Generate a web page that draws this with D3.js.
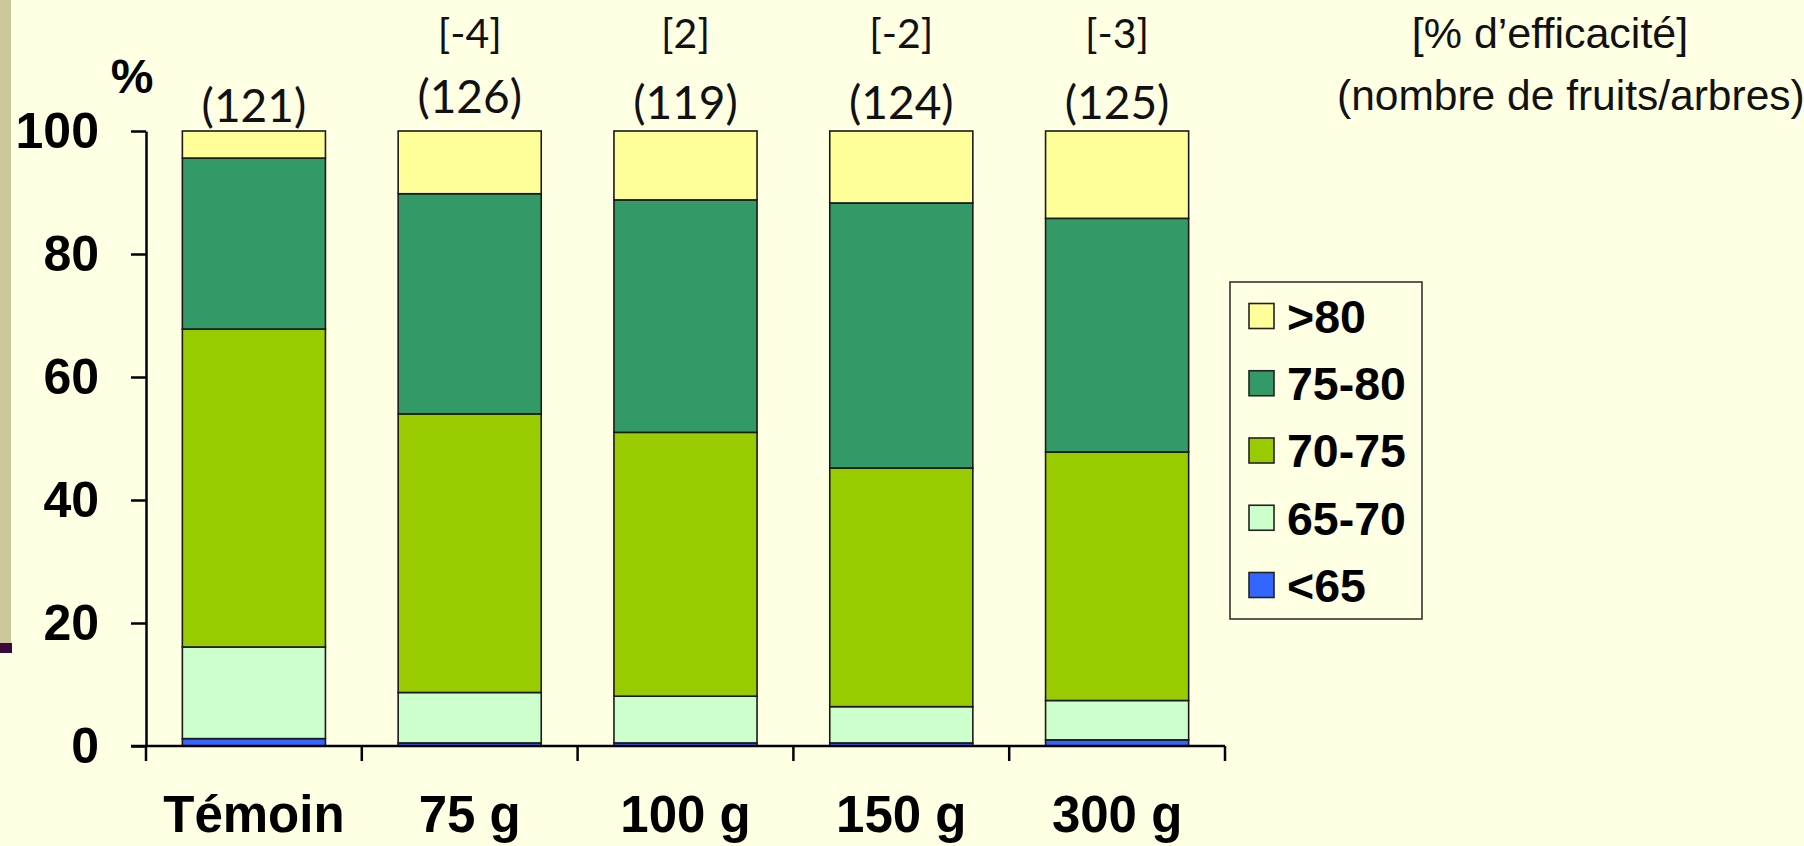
<!DOCTYPE html>
<html>
<head>
<meta charset="utf-8">
<script src="https://cdn.jsdelivr.net/npm/d3@7/dist/d3.min.js"></script>
<style>
  html, body { margin: 0; padding: 0; background: #FFFFE3; }
  svg { display: block; }
</style>
</head>
<body>
<svg id="chart" width="1804" height="846"></svg>
<script>
// ---- data ----
const categories = ["Témoin", "75 g", "100 g", "150 g", "300 g"];
const seriesKeys = ["<65", "65-70", "70-75", "75-80", ">80"];   // bottom to top
const seriesLt65  = [1.2, 0.5, 0.5, 0.5, 1.0];
const series6570  = [14.9, 8.2, 7.6, 5.9, 6.4];
const series7075  = [51.7, 45.3, 42.9, 38.8, 40.4];
const series7580  = [27.8, 35.8, 37.8, 43.1, 38.0];
const seriesGt80  = [4.4, 10.2, 11.2, 11.7, 14.2];
const fruitCounts = [121, 126, 119, 124, 125];
const efficacy    = [null, -4, 2, -2, -3];
const yTicks      = [0, 20, 40, 60, 80, 100];
const legendOrder = [">80", "75-80", "70-75", "65-70", "<65"];

// ---- styles ----
const colors = {
  "<65": "#3366FF", "65-70": "#CCFFCC", "70-75": "#99CC00",
  "75-80": "#339966", ">80": "#FFFF99"
};
const countDy = [3, -6, 0, 0, 0];   // slight vertical offsets of count labels

const rows = categories.map((c, i) => ({
  cat: c,
  "<65": seriesLt65[i], "65-70": series6570[i], "70-75": series7075[i],
  "75-80": series7580[i], ">80": seriesGt80[i]
}));

const svg = d3.select("#chart");
svg.append("rect").attr("width", 1804).attr("height", 846).attr("fill", "#FFFFE3");

// left slide decoration
svg.append("rect").attr("x", 0).attr("y", 0).attr("width", 11).attr("height", 643).attr("fill", "#CBC99B");
svg.append("rect").attr("x", 0).attr("y", 643).attr("width", 12).attr("height", 10).attr("fill", "#3A0A3A");

const x = d3.scaleBand().domain(categories).range([146, 1225]).paddingInner(0.337).paddingOuter(0.1685);
const y = d3.scaleLinear().domain([0, 100]).range([746, 131]);

const stack = d3.stack().keys(seriesKeys);
const layers = stack(rows);

// bars
const g = svg.append("g");
layers.forEach(layer => {
  g.selectAll(null).data(layer).enter().append("rect")
    .attr("x", d => x(d.data.cat))
    .attr("width", x.bandwidth())
    .attr("y", d => y(d[1]))
    .attr("height", d => y(d[0]) - y(d[1]))
    .attr("fill", colors[layer.key])
    .attr("stroke", "#1a1a1a")
    .attr("stroke-width", 1.6);
});

// y axis
const yAxis = d3.axisLeft(y).tickValues(yTicks).tickSize(15).tickPadding(32).tickSizeOuter(0);
const ya = svg.append("g").attr("transform", "translate(146,0)").call(yAxis);
ya.select(".domain").attr("stroke", "#000").attr("stroke-width", 2.5);
ya.selectAll(".tick line").attr("stroke", "#000").attr("stroke-width", 2.5);
ya.selectAll(".tick text")
  .attr("font-family", "Liberation Sans, Arial, sans-serif")
  .attr("font-weight", "bold").attr("font-size", 50).attr("fill", "#000");

// x axis line (extends to the left tick)
svg.append("line").attr("x1", 131).attr("x2", 1225).attr("y1", y(0)).attr("y2", y(0))
  .attr("stroke", "#000").attr("stroke-width", 2.5);

// category boundary ticks
const bounds = categories.map(c => x(c) - x.step() * x.paddingInner() / 2);
bounds.push(x(categories[categories.length - 1]) + x.bandwidth() + x.step() * x.paddingInner() / 2);
svg.selectAll(null).data(bounds).enter().append("line")
  .attr("x1", d => d).attr("x2", d => d)
  .attr("y1", y(0)).attr("y2", y(0) + 15)
  .attr("stroke", "#000").attr("stroke-width", 2.5);

// category labels
const xAxis = d3.axisBottom(x).tickSize(0).tickPadding(0);
const xa = svg.append("g").call(xAxis);
xa.select(".domain").remove();
xa.selectAll(".tick text")
  .attr("y", 832).attr("dy", 0)
  .attr("font-family", "Liberation Sans, Arial, sans-serif")
  .attr("font-weight", "bold").attr("font-size", 51).attr("fill", "#000");

// % label
svg.append("text").attr("x", 132).attr("y", 93).attr("text-anchor", "middle")
  .attr("font-family", "Liberation Sans, Arial, sans-serif")
  .attr("font-weight", "bold").attr("font-size", 48).text("%");

// counts above bars
svg.selectAll(null).data(categories).enter().append("text")
  .attr("x", d => x(d) + x.bandwidth() / 2)
  .attr("y", (d, i) => 119 + countDy[i])
  .attr("text-anchor", "middle")
  .attr("font-family", "Lato, 'Open Sans', sans-serif")
  .attr("font-size", 46).attr("fill", "#111")
  .text((d, i) => "(" + fruitCounts[i] + ")");

// efficacy labels
svg.selectAll(null).data(categories.filter((d, i) => efficacy[i] !== null)).enter().append("text")
  .attr("x", d => x(d) + x.bandwidth() / 2)
  .attr("y", 48)
  .attr("text-anchor", "middle")
  .attr("font-family", "Lato, 'Open Sans', sans-serif")
  .attr("font-size", 41).attr("fill", "#111")
  .text(d => "[" + efficacy[categories.indexOf(d)] + "]");

// top-right annotation
svg.append("text").attr("x", 1550).attr("y", 48).attr("text-anchor", "middle")
  .attr("font-family", "Liberation Sans, Arial, sans-serif").attr("font-size", 43).attr("fill", "#111")
  .text("[% d’efficacité]");
svg.append("text").attr("x", 1337).attr("y", 110).attr("text-anchor", "start")
  .attr("font-family", "Liberation Sans, Arial, sans-serif").attr("font-size", 42.5).attr("fill", "#111")
  .text("(nombre de fruits/arbres)");

// legend
const lg = svg.append("g");
lg.append("rect").attr("x", 1230).attr("y", 282).attr("width", 192).attr("height", 337)
  .attr("fill", "none").attr("stroke", "#333").attr("stroke-width", 1.6);
const ly = d3.scalePoint().domain(legendOrder).range([316, 585]);
const items = lg.selectAll(null).data(legendOrder).enter().append("g")
  .attr("transform", d => `translate(0,${ly(d)})`);
items.append("rect").attr("x", 1249).attr("y", -12.5).attr("width", 25).attr("height", 25)
  .attr("fill", d => colors[d]).attr("stroke", "#222").attr("stroke-width", 1.6);
items.append("text").attr("x", 1287).attr("y", 0).attr("dy", "0.36em")
  .attr("font-family", "Liberation Sans, Arial, sans-serif")
  .attr("font-weight", "bold").attr("font-size", 46.5).attr("fill", "#000")
  .text(d => d);
</script>
</body>
</html>
